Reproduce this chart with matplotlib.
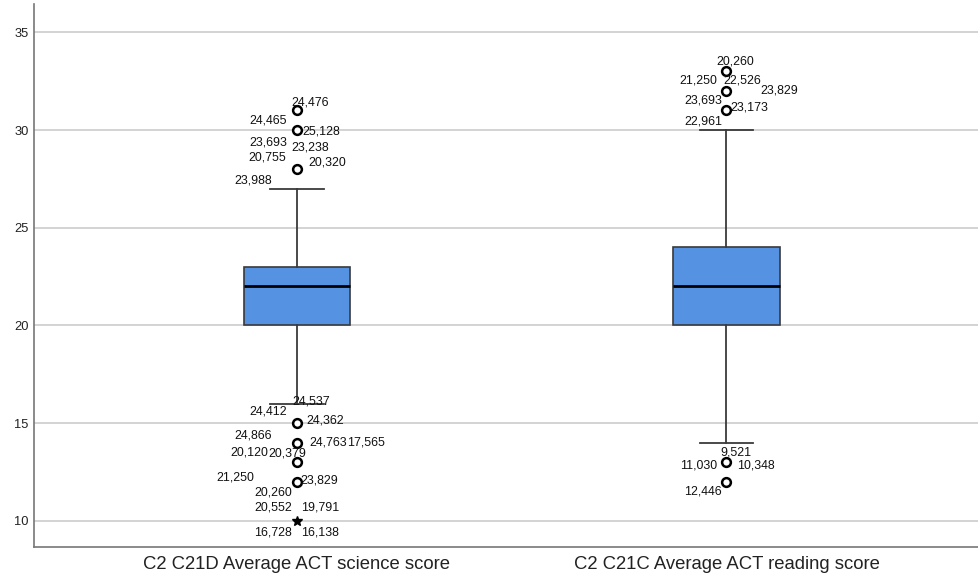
import matplotlib
matplotlib.use("Agg")
import matplotlib.pyplot as plt

plt.rcParams['font.family'] = ['Liberation Sans', 'DejaVu Sans']

# box summaries (SPSS boxplot)
categories = ["C2 C21D Average ACT science score", "C2 C21C Average ACT reading score"]
q1 = [20, 20]
medians = [22, 22]
q3 = [23, 24]
whisk_lo = [16, 14]
whisk_hi = [27, 30]

# outliers (circles) and extremes (stars) per box
outliers = [[31, 30, 28, 15, 14, 13, 12], [33, 32, 31, 13, 12]]
extremes = [[10], []]

# case labels: (box index, value, label)
case_labels = [
    (0, 31, "24,476"), (0, 31, "24,465"),
    (0, 30, "25,128"), (0, 30, "23,693"), (0, 30, "23,238"),
    (0, 28, "20,755"), (0, 28, "20,320"), (0, 28, "23,988"),
    (0, 15, "24,537"), (0, 15, "24,412"), (0, 15, "24,362"),
    (0, 14, "24,866"), (0, 14, "24,763"), (0, 14, "17,565"),
    (0, 13, "20,120"), (0, 13, "20,379"),
    (0, 12, "21,250"), (0, 12, "23,829"), (0, 12, "20,260"),
    (0, 10, "20,552"), (0, 10, "19,791"), (0, 10, "16,728"), (0, 10, "16,138"),
    (1, 33, "20,260"), (1, 33, "21,250"), (1, 33, "22,526"),
    (1, 32, "23,829"), (1, 32, "23,693"),
    (1, 31, "23,173"), (1, 31, "22,961"),
    (1, 13, "9,521"), (1, 13, "11,030"), (1, 13, "10,348"),
    (1, 12, "12,446"),
]
# label placement in pixels: (ha, dx, dy down)
label_offsets = [
    ("left", -6, -8), ("right", -10, 9.6),
    ("left", 5, 1), ("right", -10, 12.6), ("left", -6, 17),
    ("right", -11, -11.3), ("left", 11, -6.3), ("right", -25, 11),
    ("left", -5, -22), ("right", -10, -11.3), ("left", 9, -3),
    ("right", -25, -7.5), ("left", 12, 0), ("left", 50, 0),
    ("right", -29, -10), ("left", -29, -9),
    ("right", -43, -4.6), ("left", 3, -1.6), ("right", -5, 11),
    ("right", -5, -13.7), ("left", 4, -13.7), ("right", -5, 11.3), ("left", 4, 11.3),
    ("left", -10.5, -9.6), ("right", -9.5, 8.7), ("left", -3.5, 8.7),
    ("left", 34, -0.8), ("right", -4.5, 9.2),
    ("left", 4, -3.4), ("right", -4.5, 11.3),
    ("left", -6.5, -9.3), ("right", -9.5, 3), ("left", 10.5, 3),
    ("right", -4.5, 10),
]

fig = plt.figure(figsize=(9.79, 5.79), dpi=100)
ax = fig.add_axes([34 / 979, 31.7 / 579, 945 / 979, 543.3 / 579])

positions = [1, 2]
stats = []
for i in range(len(categories)):
    stats.append(dict(med=medians[i], q1=q1[i], q3=q3[i],
                      whislo=whisk_lo[i], whishi=whisk_hi[i], fliers=[]))

ax.bxp(stats, positions=positions, widths=0.249, capwidths=0.125,
       showfliers=False, patch_artist=True,
       boxprops=dict(facecolor='#5592e2', edgecolor='#3a3a3a', linewidth=1.2),
       medianprops=dict(color='black', linewidth=2),
       whiskerprops=dict(color='#3a3a3a', linewidth=1.3),
       capprops=dict(color='#3a3a3a', linewidth=1.3), zorder=3)

for i, p in enumerate(positions):
    ax.plot([p] * len(outliers[i]), outliers[i], 'o', ms=6.3, mfc='white',
            mec='black', mew=1.8, zorder=4)
    if extremes[i]:
        ax.plot([p] * len(extremes[i]), extremes[i], '*', ms=7, color='black', zorder=4)

for (bi, val, txt), (ha, dx, dy) in zip(case_labels, label_offsets):
    ax.annotate(txt, xy=(positions[bi], val), xytext=(dx, -dy),
                textcoords='offset pixels', ha=ha, va='center',
                fontsize=8.9, color='#111111', zorder=5)

ax.set_xlim(0.3877, 2.588)
ax.set_ylim(8.64, 36.45)
ax.set_yticks([10, 15, 20, 25, 30, 35])
ax.set_xticks(positions)
ax.set_xticklabels(categories, fontsize=13.3, color='#222222')
ax.tick_params(axis='y', length=0, pad=4, labelsize=9.3, labelcolor='#222222')
ax.tick_params(axis='x', length=0, pad=6)

ax.grid(axis='y', color='#d0d0d0', linewidth=1.3, zorder=0)
ax.set_axisbelow(True)
for s in ['top', 'right']:
    ax.spines[s].set_visible(False)
for s in ['left', 'bottom']:
    ax.spines[s].set_color('#777777')
    ax.spines[s].set_linewidth(1.2)

fig.savefig("out.png", dpi=100)
